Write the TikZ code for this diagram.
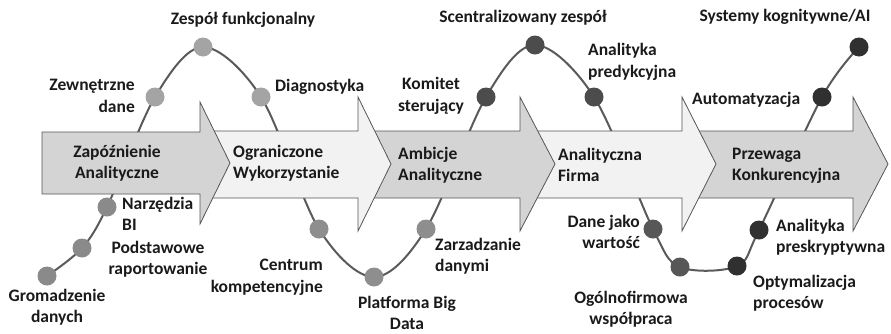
\documentclass[tikz,border=0pt]{standalone}
\usepackage{fontspec}
\setmainfont{Carlito}
\definecolor{arrdark}{HTML}{D4D4D4}
\definecolor{arrlight}{HTML}{F2F2F2}
\definecolor{arredge}{HTML}{555555}
\definecolor{wavecol}{HTML}{5A5A5A}
\definecolor{txt}{HTML}{1A1A1A}
\definecolor{dA}{HTML}{8A8A8A}
\definecolor{dB}{HTML}{A4A4A4}
\definecolor{dC}{HTML}{8E8E8E}
\definecolor{dD}{HTML}{4C4C4C}
\definecolor{dE}{HTML}{575757}
\definecolor{dF}{HTML}{303030}
\begin{document}
\begin{tikzpicture}[x=1pt,y=-1pt,
  chev/.style={draw=arredge,line width=0.8pt,line join=miter},
  wave/.style={draw=wavecol,line width=2pt},
  dot/.style={circle,fill=#1,minimum size=19pt,inner sep=0pt},
  lbl/.style={font=\bfseries\fontsize{17.5}{21.5}\selectfont,text=txt,inner sep=0pt},
  lblL/.style={lbl,align=left,anchor=west},
  lblR/.style={lbl,align=right,anchor=east},
  lblC/.style={lbl,align=center,anchor=center}]
\useasboundingbox (0,0) rectangle (891,333);
% wave points
\coordinate (p1) at (47,276);
\coordinate (p2) at (82,248);
\coordinate (p3) at (107,207);
\coordinate (p4) at (155,97);
\coordinate (p5) at (203,47);
\coordinate (p6) at (261,97);
\coordinate (p7) at (319,229);
\coordinate (p8) at (374,277);
\coordinate (p9) at (426,229);
\coordinate (p10) at (486,97);
\coordinate (p11) at (535,45);
\coordinate (p12) at (594,97);
\coordinate (p13) at (653,229);
\coordinate (p14) at (680,267);
\coordinate (p15) at (737,266);
\coordinate (p16) at (759,230);
\coordinate (p17) at (822,97);
\coordinate (p18) at (859,47);
\draw[wave] plot[smooth,tension=0.55] coordinates {(p1) (p2) (p3) (p4) (p5) (p6) (p7) (p8) (p9) (p10) (p11) (p12) (p13) (p14) (p15) (p16) (p17) (p18)};
% chevron arrows (right to left so that earlier ones lie on top)
\fill[arrdark] (694,131) -- (853,131) -- (853,97) -- (888,164) -- (853,231) -- (853,198) -- (694,198) -- cycle;
\draw[chev] (694,131) -- (853,131) -- (853,97) -- (888,164) -- (853,231) -- (853,198) -- (694,198);
\fill[arrlight] (532,131) -- (682,131) -- (682,97) -- (716,164) -- (682,231) -- (682,198) -- (532,198) -- cycle;
\draw[chev] (532,131) -- (682,131) -- (682,97) -- (716,164) -- (682,231) -- (682,198) -- (532,198);
\fill[arrdark] (368,131) -- (520,131) -- (520,97) -- (555,164) -- (520,231) -- (520,198) -- (368,198) -- cycle;
\draw[chev] (368,131) -- (520,131) -- (520,97) -- (555,164) -- (520,231) -- (520,198) -- (368,198);
\fill[arrlight] (208,131) -- (358,131) -- (358,97) -- (391,164) -- (358,231) -- (358,198) -- (208,198) -- cycle;
\draw[chev] (208,131) -- (358,131) -- (358,97) -- (391,164) -- (358,231) -- (358,198) -- (208,198);
\draw[chev,fill=arrdark] (42,132) -- (200,132) -- (200,102) -- (230,163) -- (200,224) -- (200,194) -- (42,194) -- cycle;
% dots
\node[dot=dA] (n1) at (p1) {};
\node[dot=dA] (n2) at (p2) {};
\node[dot=dA] (n3) at (p3) {};
\node[dot=dB] (n4) at (p4) {};
\node[dot=dB] (n5) at (p5) {};
\node[dot=dB] (n6) at (p6) {};
\node[dot=dC] (n7) at (p7) {};
\node[dot=dC] (n8) at (p8) {};
\node[dot=dC] (n9) at (p9) {};
\node[dot=dD] (n10) at (p10) {};
\node[dot=dD] (n11) at (p11) {};
\node[dot=dD] (n12) at (p12) {};
\node[dot=dE] (n13) at (p13) {};
\node[dot=dE] (n14) at (p14) {};
\node[dot=dF] (n15) at (p15) {};
\node[dot=dF] (n16) at (p16) {};
\node[dot=dF] (n17) at (p17) {};
\node[dot=dF] (n18) at (p18) {};
% stage labels
\node[lblC] (s1) at (117,163) {Zapóźnienie\\Analityczne};
\node[lblL] (s2) at (233,163) {Ograniczone\\Wykorzystanie};
\node[lblL] (s3) at (398,165) {Ambicje\\Analityczne};
\node[lblL] (s4) at (558,165) {Analityczna\\Firma};
\node[lblL] (s5) at (732,166) {Przewaga\\Konkurencyjna};
% dot labels
\node[lblC] (t1) at (57,307) {Gromadzenie\\danych};
\node[lblC] (t2) at (158,259) {Podstawowe\\raportowanie};
\node[lblL] (t3) at (122,214) {Narzędzia\\BI};
\node[lblR] (t4) at (135,96) {Zewnętrzne\\dane};
\node[lblC] (t5) at (243,20) {Zespół funkcjonalny};
\node[lblL] (t6) at (275,87) {Diagnostyka};
\node[lblR] (t7) at (323,277) {Centrum\\kompetencyjne};
\node[lblC] (t8) at (407,313) {Platforma Big\\Data};
\node[lblL] (t9) at (435,256) {Zarzadzanie\\danymi};
\node[lblC] (t10) at (431,96) {Komitet\\sterujący};
\node[lblC] (t11) at (523,18) {Scentralizowany zespół};
\node[lblL] (t12) at (588,62) {Analityka\\predykcyjna};
\node[lblR] (t13) at (640,232) {Dane jako\\wartość};
\node[lblC] (t14) at (631,309) {Ogólnofirmowa\\współpraca};
\node[lblL] (t15) at (753,293) {Optymalizacja\\procesów};
\node[lblL] (t16) at (776,237) {Analityka\\preskryptywna};
\node[lblL] (t17) at (692,100) {Automatyzacja};
\node[lblC] (t18) at (785,17) {Systemy kognitywne/AI};
\end{tikzpicture}
\end{document}
